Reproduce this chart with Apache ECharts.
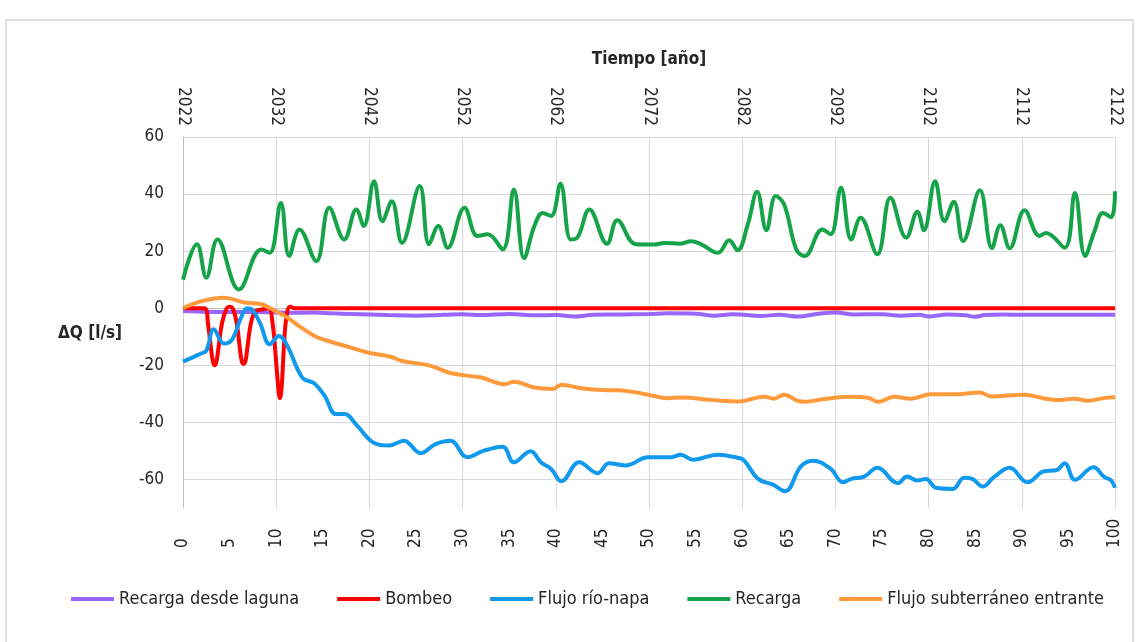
<!DOCTYPE html>
<html>
<head>
<meta charset="utf-8">
<script src="https://cdn.jsdelivr.net/npm/echarts@6/dist/echarts.min.js"></script>
<style>
html,body{margin:0;padding:0;background:#fff;}
#chart{width:1139px;height:642px;}
</style>
</head>
<body>
<div id="chart"></div>
<script>
// tiempo [años desde 2022] y caudal [l/s]
var lagunaT=[0,2,5,8,10,12,14,16,18,20,22,25,28,30,32,35,38,40,42,44,47,50,52,55,57,59,62,64,66,68,70,72,75,77,79,80,82,84,85,86,88,90,95,100];
var lagunaV=[-1,-1.2,-1.3,-1.3,-1.5,-1.6,-1.5,-1.8,-2,-2.2,-2.4,-2.6,-2.3,-2.1,-2.4,-2,-2.5,-2.4,-2.9,-2.3,-2.2,-2,-1.8,-1.9,-2.6,-2.1,-2.7,-2.3,-2.9,-2,-1.5,-2.2,-2.1,-2.6,-2.3,-2.9,-2.2,-2.5,-3,-2.4,-2.2,-2.3,-2.3,-2.3];

var bombeoT=[0,2.3,2.7,3.0,3.2,3.4,3.6,3.8,4.2,4.7,5.0,5.4,5.8,6.1,6.3,6.5,6.7,6.9,7.3,7.8,8.4,9.2,9.6,9.9,10.2,10.4,10.6,10.8,11.1,11.5,12.0,100];
var bombeoV=[0,0,-6,-14,-18.5,-20,-18.5,-14,-5,0,0.5,-0.5,-6,-14,-18.5,-19.5,-18.5,-14,-5,-1,-0.5,0,-5,-15,-27,-31.5,-27,-15,-3,0.5,0,0];

var rioT=[0,1.9,2.5,3.3,4.4,5.3,6.2,6.9,7.5,8.3,9.3,10.3,11.2,12.8,14.1,15.2,16.4,17.3,18.7,20.4,22.1,23.7,25.5,27.1,28.7,30.5,32.3,34.3,35.5,37.3,38.4,39.5,40.6,42.5,44.5,45.7,47.5,49.9,52.4,53.4,54.7,57.4,59.5,60.2,61.7,63.3,64.6,66.3,67.6,69.5,70.8,71.7,73.1,74.5,76.7,77.7,78.8,79.7,80.8,82.6,83.8,84.7,85.8,87.0,88.7,90.6,92.4,93.7,94.6,95.7,97.7,98.8,99.6,100];
var rioV=[-18.7,-15.9,-14.9,-7.4,-12.4,-10.8,-3.5,0,-0.8,-5.5,-12.6,-9.7,-13.2,-24.3,-26.4,-30.7,-37.1,-37.1,-41.2,-47,-48.1,-46.4,-50.8,-47.6,-46.4,-52.2,-49.9,-48.5,-54,-50.1,-54,-56.3,-60.6,-54,-57.8,-54.3,-55.1,-52.2,-52.2,-51.3,-53.1,-51.3,-52.4,-53.3,-59.8,-61.8,-64.1,-55.4,-53.4,-56.3,-61,-59.8,-59,-55.9,-61.3,-59,-60.4,-59.8,-62.9,-63.3,-59.4,-59.8,-62.5,-59.2,-55.9,-61,-57.1,-56.8,-54.3,-60.1,-55.7,-59,-60.4,-62.9];

var recargaT=[0,1.5,2.5,3.7,6.0,8.4,9.3,10.5,11.4,12.5,14.3,15.7,17.3,18.6,19.4,20.5,21.4,22.4,23.5,25.4,26.4,27.4,28.4,30.2,31.6,32.7,34.3,35.5,36.6,37.7,38.6,39.5,40.5,41.6,42.3,43.6,45.5,46.6,48.6,50.6,51.6,53.4,54.5,55.6,57.4,58.6,59.5,60.6,61.6,62.6,63.6,64.5,65.8,66.7,68.6,69.5,70.6,71.7,72.7,74.5,75.9,77.6,78.8,79.5,80.7,81.7,82.7,83.7,85.5,86.8,87.7,88.7,90.3,91.9,92.6,94.6,95.7,96.8,97.8,98.7,99.6,100];
var recargaV=[10,22.4,10.7,24.1,6.6,20.6,19.4,36.9,18.3,27.6,16.5,35.2,24.1,34.6,28.8,44.5,30.5,37.5,22.9,42.8,22.4,28.8,21.2,35.2,25.3,25.9,20.6,41.6,17.5,28.8,33.4,32.3,43.6,24.1,24.7,34.6,22.6,30.8,22.4,22.3,22.9,22.6,23.5,22.4,19.4,23.8,20.3,29.4,40.8,27.3,39.3,36.4,20.6,18.3,27.6,25.9,42.2,24.1,31.7,18.9,38.7,24.7,33.8,27.3,44.5,30.5,37.3,23.5,41.3,21.0,29.1,21.0,34.3,25.3,26.4,21.2,40.4,18.3,27,33.4,31.9,41];

var subtT=[0,2,4.4,6.6,8.4,9.6,11.2,12.7,14.1,15.5,18,19.8,22.3,23.4,26.6,28.8,32,34.5,35.5,37.7,39.7,40.6,42.7,45.6,46.6,49.9,52,53.4,57,59.5,62.4,63.4,64.5,65.9,66.7,68.8,71.7,73.5,74.6,76.3,78.1,80.3,83.1,85.5,86.7,90.3,92.4,93.8,95.6,97.1,98.8,100];
var subtV=[0,2.5,3.7,2,1.4,-0.4,-3.3,-6.8,-9.7,-11.4,-13.8,-15.5,-17,-18.4,-20.2,-22.8,-24.3,-26.6,-25.8,-27.8,-28.3,-26.8,-28,-28.7,-28.7,-30.3,-31.5,-31.3,-32.2,-32.7,-31,-31.7,-30.3,-32.4,-32.8,-31.8,-31,-31.4,-32.8,-31,-31.7,-30.1,-30.1,-29.5,-30.9,-30.3,-31.6,-32.2,-31.7,-32.4,-31.5,-31.2];

var yTicks=[-60,-40,-20,0,20,40,60];
var xTicks=[0,10,20,30,40,50,60,70,80,90,100];
var startYear=2022;

var font='"Liberation Sans Narrow","DejaVu Sans Condensed",sans-serif';

function pairs(t,v){
	var out=[];
	for(var i=0;i<t.length;i++){
		out.push([t[i],v[i]]);
	}
	return out;
}

function serie(name,color,t,v){
	return {
		name:name,
		type:'line',
		xAxisIndex:0,
		data:pairs(t,v),
		smooth:0.4,
		showSymbol:false,
		lineStyle:{color:color,width:4},
		itemStyle:{color:color}
	};
}

var chart=echarts.init(document.getElementById('chart'));
var option={
	animation:false,
	title:{
		text:'ΔQ [l/s]',
		left:53,
		top:320,
		textStyle:{fontFamily:font,fontSize:17,fontWeight:'bold',color:'#262626'}
	},
	graphic:[{
		type:'rect',
		shape:{x:6,y:20,width:1127,height:630},
		style:{fill:null,stroke:'#bfbfbf',lineWidth:1},
		silent:true
	}],
	legend:{
		bottom:29,
		left:66,
		icon:'rect',
		itemWidth:43,
		itemHeight:4,
		itemGap:38,
		textStyle:{fontFamily:font,fontSize:18,color:'#262626'},
		data:['Recarga desde laguna','Bombeo','Flujo río-napa','Recarga','Flujo subterráneo entrante']
	},
	grid:{left:183,right:24,top:137,bottom:134},
	xAxis:[{
		type:'value',
		position:'bottom',
		min:0,max:100,interval:5,
		axisLine:{show:true,lineStyle:{color:'#bfbfbf',width:1}},
		axisTick:{show:true,length:10,customValues:xTicks,lineStyle:{color:'#d9d9d9'}},
		splitLine:{show:false},
		axisLabel:{rotate:90,align:'left',margin:40,fontFamily:font,fontSize:17,color:'#262626'}
	},{
		type:'value',
		position:'top',
		min:0,max:100,interval:10,
		name:'Tiempo [año]',
		nameLocation:'middle',
		nameGap:69,
		nameTextStyle:{fontFamily:font,fontSize:17,fontWeight:'bold',color:'#262626'},
		axisLine:{show:false},
		axisTick:{show:false},
		splitLine:{show:true,lineStyle:{color:'#d9d9d9',width:1}},
		axisLabel:{rotate:90,margin:11,fontFamily:font,fontSize:17,color:'#262626',
			formatter:function(v){return String(startYear+v);}}
	}],
	yAxis:{
		type:'value',
		min:-70,max:60,
		axisLine:{show:true,lineStyle:{color:'#bfbfbf',width:1}},
		axisTick:{show:false,customValues:yTicks},
		axisLabel:{customValues:yTicks,margin:19,fontFamily:font,fontSize:17,color:'#262626'},
		splitLine:{show:true,lineStyle:{color:'#d9d9d9',width:1}}
	},
	series:[
		serie('Recarga desde laguna','#9966ff',lagunaT,lagunaV),
		serie('Bombeo','#ff0000',bombeoT,bombeoV),
		serie('Flujo río-napa','#1199ee',rioT,rioV),
		serie('Recarga','#16a34a',recargaT,recargaV),
		serie('Flujo subterráneo entrante','#ff9a3c',subtT,subtV)
	]
};
chart.setOption(option);
</script>
</body>
</html>
